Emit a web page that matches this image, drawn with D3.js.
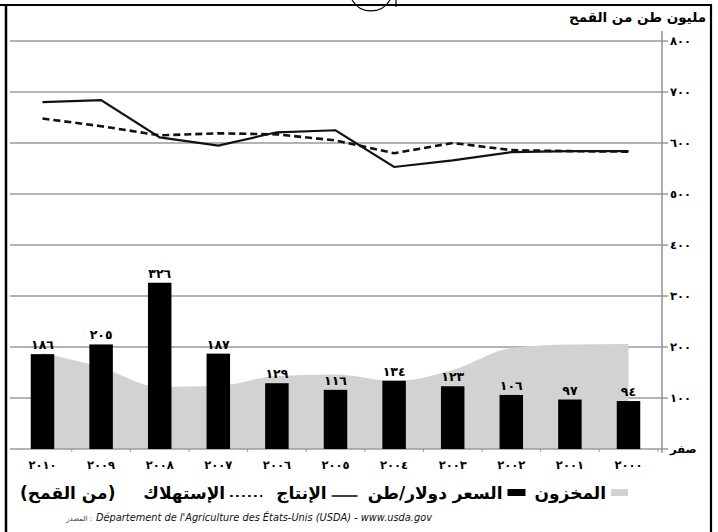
<!DOCTYPE html>
<html>
<head>
<meta charset="utf-8">
<script src="https://cdn.jsdelivr.net/npm/d3@7"></script>
<style>
  body { margin: 0; background: #fff; }
  svg { display: block; }
  text { font-family: "DejaVu Sans", "Noto Sans", sans-serif; }
</style>
</head>
<body>
<svg id="chart" width="718" height="532"></svg>
<script>
// ---------------- data ----------------
const years = [2010, 2009, 2008, 2007, 2006, 2005, 2004, 2003, 2002, 2001, 2000];
const yearLabels = ["٢٠١٠","٢٠٠٩","٢٠٠٨","٢٠٠٧","٢٠٠٦","٢٠٠٥","٢٠٠٤","٢٠٠٣","٢٠٠٢","٢٠٠١","٢٠٠٠"];
// price in dollars per ton (bars)
const price = [186, 205, 326, 187, 129, 116, 134, 123, 106, 97, 94];
const priceLabels = ["١٨٦","٢٠٥","٣٢٦","١٨٧","١٢٩","١١٦","١٣٤","١٢٣","١٠٦","٩٧","٩٤"];
// stocks, million tons (grey area)
const stocks = [188, 160, 122, 124, 143, 146, 133, 155, 198, 205, 206];
// production, million tons (solid line)
const production = [680, 684, 611, 595, 621, 625, 553, 566, 582, 584, 584];
// consumption, million tons (dashed line)
const consumption = [648, 633, 615, 619, 617, 605, 580, 600, 586, 584, 583];
const yTicks = [0, 100, 200, 300, 400, 500, 600, 700, 800];
const yTickLabels = ["صفر","١٠٠","٢٠٠","٣٠٠","٤٠٠","٥٠٠","٦٠٠","٧٠٠","٨٠٠"];
const yTitle = "مليون طن من القمح";
const legendItems = [
  { key: "stocks", label: "المخزون" },
  { key: "price", label: "السعر دولار/طن" },
  { key: "production", label: "الإنتاج" },
  { key: "consumption", label: "الإستهلاك" }
];
const legendNote = "(من القمح)";
const sourceLabel = "المصدر :";
const sourceText = "Département de l'Agriculture des États-Unis (USDA) - www.usda.gov";

// ---------------- layout ----------------
const svg = d3.select("#chart");
const plotLeft = 10, axisX = 662, plotTop = 41, plotBottom = 449;

const x = d3.scalePoint().domain(years).range([42.5, 628.5]);
const y = d3.scaleLinear().domain([0, 800]).range([plotBottom, plotTop]);
const barW = 23.5;

// frame
const frame = svg.append("g").attr("stroke", "#000").attr("fill", "none");
frame.append("line").attr("x1", 0).attr("x2", 712).attr("y1", 5).attr("y2", 5).attr("stroke-width", 2.2);
frame.append("line").attr("x1", 6).attr("x2", 6).attr("y1", 4).attr("y2", 532).attr("stroke-width", 2.5);
frame.append("line").attr("x1", 711).attr("x2", 711).attr("y1", 4).attr("y2", 532).attr("stroke-width", 2.2);
frame.append("path").attr("d", "M352,0 A22,22 0 0 0 390,0").attr("stroke-width", 1.2);
frame.append("line").attr("x1", 396).attr("x2", 396).attr("y1", 0).attr("y2", 7).attr("stroke-width", 1.2);

// gridlines
svg.append("g").selectAll("line").data(yTicks.slice(1)).join("line")
  .attr("x1", plotLeft).attr("x2", axisX + 6)
  .attr("y1", d => y(d)).attr("y2", d => y(d))
  .attr("stroke", "#9a9a9a").attr("stroke-width", 1.6);

// stocks area
const area = d3.area()
  .x((d, i) => x(years[i]))
  .y0(y(0)).y1(d => y(d))
  .curve(d3.curveMonotoneX);
svg.append("path").datum(stocks).attr("d", area).attr("fill", "#d2d2d2");

// baseline
svg.append("line").attr("x1", plotLeft).attr("x2", axisX + 6)
  .attr("y1", y(0)).attr("y2", y(0)).attr("stroke", "#9a9a9a").attr("stroke-width", 1.6);
svg.append("g").selectAll("line").data(years).join("line")
  .attr("x1", d => x(d) + x.step() / 2).attr("x2", d => x(d) + x.step() / 2)
  .attr("y1", y(0)).attr("y2", y(0) + 3)
  .attr("stroke", "#9a9a9a").attr("stroke-width", 1);

// bars
svg.append("g").selectAll("rect").data(price).join("rect")
  .attr("x", (d, i) => x(years[i]) - barW / 2)
  .attr("width", barW)
  .attr("y", d => y(d))
  .attr("height", d => y(0) - y(d))
  .attr("fill", "#000");

// bar labels
svg.append("g").selectAll("text").data(price).join("text")
  .attr("x", (d, i) => x(years[i]))
  .attr("y", d => y(d) - 5)
  .attr("text-anchor", "middle")
  .attr("font-size", 12.5).attr("font-weight", "bold")
  .text((d, i) => priceLabels[i]);

// lines
const line = d3.line().x((d, i) => x(years[i])).y(d => y(d));
svg.append("path").datum(consumption).attr("d", line)
  .attr("fill", "none").attr("stroke", "#111").attr("stroke-width", 2.6)
  .attr("stroke-dasharray", "7,4");
svg.append("path").datum(production).attr("d", line)
  .attr("fill", "none").attr("stroke", "#111").attr("stroke-width", 2.2);

// right axis
svg.append("line").attr("x1", axisX).attr("x2", axisX).attr("y1", 31).attr("y2", plotBottom + 4)
  .attr("stroke", "#8a8a8a").attr("stroke-width", 1.4);
svg.append("g").selectAll("text").data(yTicks).join("text")
  .attr("x", axisX + 8).attr("y", d => y(d) + 4)
  .attr("font-size", 11.5).attr("font-weight", "bold")
  .text((d, i) => yTickLabels[i]);
svg.append("text").attr("x", 706).attr("y", 22).attr("text-anchor", "end")
  .attr("font-size", 13.5).attr("font-weight", "bold").text(yTitle);

// x labels
svg.append("g").selectAll("text").data(years).join("text")
  .attr("x", d => x(d)).attr("y", 469)
  .attr("text-anchor", "middle")
  .attr("font-size", 11.5).attr("font-weight", "bold")
  .text((d, i) => yearLabels[i]);

// legend, laid out right to left from measured text widths
const lg = svg.append("g").attr("font-size", 17).attr("font-weight", "bold");
const legendBase = 499, symY = 492.5;
let cursor = 628;
const symbols = {
  stocks: (g, r) => { g.append("rect").attr("x", r - 17).attr("y", symY - 3.5).attr("width", 17).attr("height", 7).attr("fill", "#d2d2d2"); return 17; },
  price: (g, r) => { g.append("rect").attr("x", r - 18).attr("y", symY - 3.5).attr("width", 18).attr("height", 7).attr("fill", "#000"); return 18; },
  production: (g, r) => { g.append("line").attr("x1", r - 26).attr("x2", r).attr("y1", legendBase - 3).attr("y2", legendBase - 3).attr("stroke", "#111").attr("stroke-width", 1.6); return 26; },
  consumption: (g, r) => { g.append("line").attr("x1", r - 32).attr("x2", r).attr("y1", legendBase - 3).attr("y2", legendBase - 3).attr("stroke", "#111").attr("stroke-width", 2).attr("stroke-dasharray", "2.5,3.5"); return 32; }
};
const gaps = [9, 10, 14, 0];
legendItems.forEach((it, i) => {
  cursor -= symbols[it.key](lg, cursor);
  cursor -= 5;
  const t = lg.append("text").attr("x", cursor).attr("y", legendBase).attr("text-anchor", "end").text(it.label);
  cursor -= t.node().getComputedTextLength();
  cursor -= gaps[i];
});
lg.append("text").attr("x", 20).attr("y", legendBase).attr("text-anchor", "start").text(legendNote);

// source
svg.append("text").attr("x", 92).attr("y", 521).attr("text-anchor", "end")
  .attr("font-size", 7).attr("fill", "#333").text(sourceLabel);
svg.append("text").attr("x", 96).attr("y", 521)
  .attr("font-family", "Liberation Serif, serif").attr("font-style", "italic")
  .attr("font-size", 9.8).attr("fill", "#111").text(sourceText);
</script>
</body>
</html>
